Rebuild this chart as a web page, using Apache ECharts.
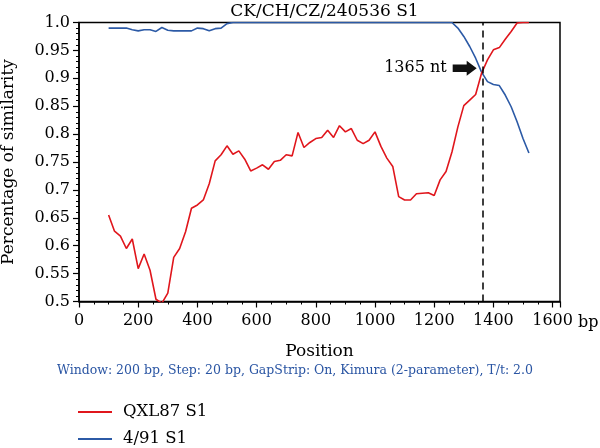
<!DOCTYPE html>
<html>
<head>
<meta charset="utf-8">
<script src="https://cdn.jsdelivr.net/npm/echarts@6/dist/echarts.min.js"></script>
<style>
  html, body { margin: 0; padding: 0; background: #fff; }
  #chart { width: 600px; height: 448px; }
</style>
</head>
<body>
<div id="chart"></div>
<script>
// 窗口中心位置 (bp)
var positions = [
    100, 120, 140, 160, 180, 200, 220, 240, 260, 280,
    300, 320, 340, 360, 380, 400, 420, 440, 460, 480,
    500, 520, 540, 560, 580, 600, 620, 640, 660, 680,
    700, 720, 740, 760, 780, 800, 820, 840, 860, 880,
    900, 920, 940, 960, 980, 1000, 1020, 1040, 1060, 1080,
    1100, 1120, 1140, 1160, 1180, 1200, 1220, 1240, 1260, 1280,
    1300, 1320, 1340, 1360, 1380, 1400, 1420, 1440, 1460, 1480,
    1500, 1520
];
var qxl87 = [
    0.655, 0.626, 0.617, 0.595, 0.612, 0.559, 0.585, 0.556, 0.504, 0.497,
    0.515, 0.579, 0.595, 0.625, 0.667, 0.673, 0.682, 0.711, 0.752, 0.763,
    0.779, 0.764, 0.770, 0.755, 0.734, 0.739, 0.745, 0.737, 0.751, 0.753,
    0.763, 0.761, 0.803, 0.776, 0.785, 0.792, 0.794, 0.807, 0.794, 0.815,
    0.804, 0.810, 0.789, 0.783, 0.789, 0.804, 0.778, 0.757, 0.742, 0.688,
    0.682, 0.682, 0.693, 0.694, 0.695, 0.690, 0.718, 0.733, 0.768, 0.813,
    0.851, 0.861, 0.871, 0.909, 0.933, 0.951, 0.955, 0.970, 0.984, 0.999,
    1.000, 1.000
];
var s491 = [
    0.990, 0.990, 0.990, 0.990, 0.987, 0.985, 0.987, 0.987, 0.984, 0.991,
    0.986, 0.985, 0.985, 0.985, 0.985, 0.990, 0.989, 0.985, 0.989, 0.990,
    0.998, 1.000, 1.000, 1.000, 1.000, 1.000, 1.000, 1.000, 1.000, 1.000,
    1.000, 1.000, 1.000, 1.000, 1.000, 1.000, 1.000, 1.000, 1.000, 1.000,
    1.000, 1.000, 1.000, 1.000, 1.000, 1.000, 1.000, 1.000, 1.000, 1.000,
    1.000, 1.000, 1.000, 1.000, 1.000, 1.000, 1.000, 1.000, 1.000, 0.990,
    0.975, 0.957, 0.936, 0.911, 0.894, 0.889, 0.887, 0.870, 0.849, 0.822,
    0.792, 0.766
];
var seriesNames = ['QXL87 S1', '4/91 S1'];
var breakpoint = 1365;          // 重组断点
var arrowAt = [1303, 0.918];    // 箭头位置 (数据坐标)

var FONT = 'DejaVu Serif';

function pairs(ys) {
    var out = [];
    for (var i = 0; i < positions.length; i++) {
        out.push([positions[i], ys[i]]);
    }
    return out;
}

var myChart = echarts.init(document.getElementById('chart'));

var option = {
    animation: false,
    title: {
        text: 'CK/CH/CZ/240536 S1',
        left: 319.5,
        textAlign: 'center',
        top: -2,
        textStyle: { fontFamily: FONT, fontSize: 17, fontWeight: 'normal', color: '#000' }
    },
    grid: {
        left: 79, right: 40, top: 22.5, bottom: 146.5,
        outerBoundsMode: 'none',
        show: true, borderColor: '#000', borderWidth: 1.5, backgroundColor: 'transparent'
    },
    legend: {
        orient: 'vertical',
        left: 78, top: 403,
        padding: 0,
        height: 80,
        icon: 'rect',
        itemWidth: 34, itemHeight: 2, itemGap: 9,
        data: seriesNames,
        textStyle: { fontFamily: FONT, fontSize: 16.5, lineHeight: 18, color: '#000', padding: [0, 0, 0, 6] }
    },
    xAxis: {
        type: 'value',
        min: 0, max: 1625, interval: 200,
        name: 'Position',
        nameLocation: 'middle',
        nameGap: 42,
        nameTextStyle: { fontFamily: FONT, fontSize: 17, color: '#000' },
        axisLine: { lineStyle: { color: '#000', width: 1.5 } },
        axisTick: { length: 6, lineStyle: { color: '#000', width: 1.2 } },
        minorTick: { show: true, splitNumber: 4, length: 3, lineStyle: { color: '#000', width: 1 } },
        axisLabel: {
            showMaxLabel: false, margin: 11, fontFamily: FONT, fontSize: 16, color: '#000',
            formatter: function (v) { return String(v); }
        },
        splitLine: { show: false }
    },
    yAxis: {
        type: 'value',
        min: 0.5, max: 1.0, interval: 0.05,
        name: 'Percentage of similarity',
        nameLocation: 'middle',
        nameGap: 62,
        nameTextStyle: { fontFamily: FONT, fontSize: 17, color: '#000' },
        axisLine: { show: true, lineStyle: { color: '#000', width: 1.5 } },
        axisTick: { show: true, length: 6, lineStyle: { color: '#000', width: 1.2 } },
        minorTick: { show: true, splitNumber: 5, length: 3, lineStyle: { color: '#000', width: 1 } },
        axisLabel: {
            margin: 9, fontFamily: FONT, fontSize: 16, color: '#000',
            formatter: function (v) {
                if (Math.abs(v - 1) < 1e-9) return '1.0';
                return String(Math.round(v * 100) / 100);
            }
        },
        splitLine: { show: false }
    },
    series: [
        {
            name: seriesNames[0],
            type: 'line',
            data: pairs(qxl87),
            symbol: 'none',
            clip: true,
            color: '#e0161c',
            lineStyle: { width: 1.6, color: '#e0161c' },
            z: 3,
            markLine: {
                silent: true,
                symbol: 'none',
                label: { show: false },
                lineStyle: { color: '#000', width: 1.5, type: [7, 5] },
                data: [{ xAxis: breakpoint }]
            },
            markPoint: {
                silent: true,
                symbol: 'path://M0,4 L14,4 L14,0 L24,8 L14,16 L14,12 L0,12 Z',
                symbolSize: [24, 15],
                itemStyle: { color: '#111' },
                label: {
                    show: true, position: 'left', distance: 6,
                    formatter: breakpoint + ' nt',
                    fontFamily: FONT, fontSize: 16, color: '#000'
                },
                data: [{ coord: arrowAt }]
            }
        },
        {
            name: seriesNames[1],
            type: 'line',
            data: pairs(s491),
            symbol: 'none',
            clip: true,
            color: '#2c5aa6',
            lineStyle: { width: 1.6, color: '#2c5aa6' },
            z: 2
        }
    ],
    graphic: [
        {
            type: 'text', x: 578, y: 323,
            style: { text: 'bp', fontFamily: FONT, fontSize: 16, fill: '#000', verticalAlign: 'middle' }
        },
        {
            type: 'text', x: 295, y: 371,
            style: {
                text: 'Window: 200 bp, Step: 20 bp, GapStrip: On, Kimura (2-parameter), T/t: 2.0',
                fontFamily: FONT, fontSize: 12.5, fill: '#2a55a3', align: 'center', verticalAlign: 'middle'
            }
        }
    ]
};

myChart.setOption(option);
window.onresize = myChart.resize;
</script>
</body>
</html>
